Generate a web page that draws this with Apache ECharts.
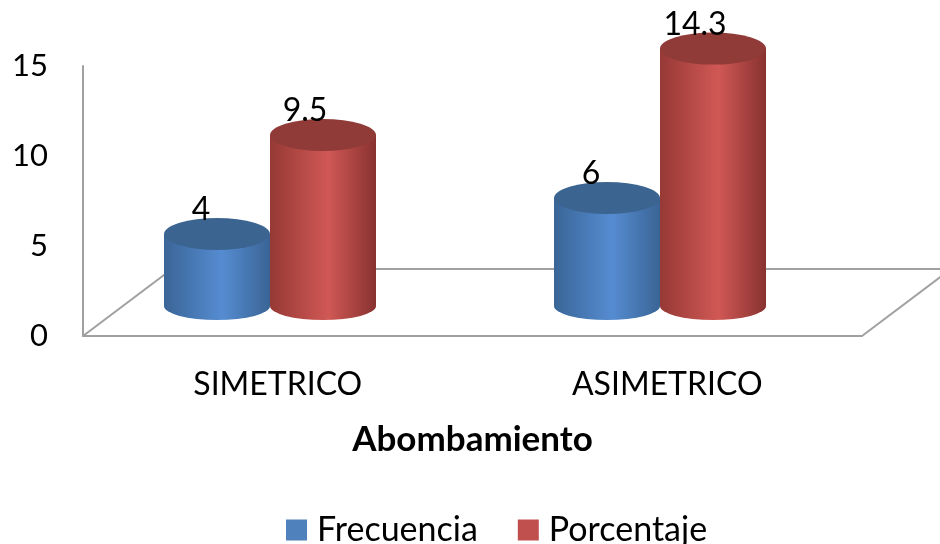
<!DOCTYPE html>
<html>
<head>
<meta charset="utf-8">
<script src="https://cdn.jsdelivr.net/npm/echarts@6/dist/echarts.min.js"></script>
<style>
  html, body { margin: 0; padding: 0; background: #fff; }
  #main { width: 940px; height: 544px; }
</style>
</head>
<body>
<div id="main"></div>
<script>
// datos
const categories = ['SIMETRICO', 'ASIMETRICO'];
const frecuencia = [4, 6];
const porcentaje = [9.5, 14.3];
const yTicks = [0, 5, 10, 15];

const FONT = 'Lato';
const W = 106; // ancho de cada cilindro

function grad(c1, c2, c3) {
  return new echarts.graphic.LinearGradient(0, 0, 1, 0, [
    { offset: 0, color: c1 },
    { offset: 0.55, color: c2 },
    { offset: 1, color: c3 }
  ]);
}
const blueBody = grad('#3a6597', '#558cd1', '#3a6495');
const redBody = grad('#963935', '#d05855', '#883230');
const blueTop = '#3c6491';
const redTop = '#903b38';

// piso / pared (decoracion 3D)
const floorColor = '#a0a0a0';
const backY = 269;

const myChart = echarts.init(document.getElementById('main'));

const option = {
  animation: false,
  textStyle: { fontFamily: FONT },
  grid: [
    { left: 83, right: 78, top: 66, bottom: 208 },
    { left: 75, right: 85, top: 36, bottom: 238 }
  ],
  xAxis: [
    {
      type: 'category',
      gridIndex: 0,
      data: categories,
      axisLine: { lineStyle: { color: floorColor, width: 2 } },
      axisTick: { show: false },
      axisLabel: { color: '#000', fontSize: 32, margin: 33, fontFamily: FONT },
      name: 'Abombamiento',
      nameLocation: 'middle',
      nameGap: 86,
      nameTextStyle: { color: '#000', fontSize: 35, fontWeight: 'bold', fontFamily: FONT }
    },
    {
      type: 'category',
      gridIndex: 1,
      data: categories,
      show: false
    }
  ],
  yAxis: [
    {
      type: 'value',
      gridIndex: 0,
      min: yTicks[0],
      max: yTicks[yTicks.length - 1],
      interval: yTicks[1] - yTicks[0],
      axisLine: { show: true, lineStyle: { color: floorColor, width: 2 } },
      axisTick: { show: false },
      splitLine: { show: false },
      axisLabel: { color: '#000', fontSize: 31, margin: 35, fontFamily: FONT }
    },
    {
      type: 'value',
      gridIndex: 1,
      min: yTicks[0],
      max: yTicks[yTicks.length - 1],
      show: false
    }
  ],
  legend: {
    data: [
      { name: 'Frecuencia', itemStyle: { color: '#4f81bd' } },
      { name: 'Porcentaje', itemStyle: { color: '#c0504d' } }
    ],
    top: 508,
    left: 281,
    icon: 'rect',
    itemWidth: 21,
    itemHeight: 21,
    itemGap: 40,
    textStyle: { color: '#000', fontSize: 34, fontFamily: FONT, padding: [0, 0, 0, 5] }
  },
  graphic: [
    {
      type: 'polyline',
      z: -1,
      shape: { points: [[83, 336], [172, backY], [940, backY]] },
      style: { stroke: floorColor, lineWidth: 2, fill: null }
    },
    {
      type: 'polyline',
      z: -1,
      shape: { points: [[862, 336], [951, backY]] },
      style: { stroke: floorColor, lineWidth: 2, fill: null }
    }
  ],
  series: [
    // bases
    {
      name: 'Frecuencia', type: 'pictorialBar', xAxisIndex: 1, yAxisIndex: 1,
      data: frecuencia, symbol: 'circle', symbolSize: [W, 28],
      symbolOffset: [-W / 2, '50%'], symbolPosition: 'start',
      itemStyle: { color: blueBody }, z: 1
    },
    {
      name: 'Porcentaje', type: 'pictorialBar', xAxisIndex: 1, yAxisIndex: 1,
      data: porcentaje, symbol: 'circle', symbolSize: [W, 28],
      symbolOffset: [W / 2, '50%'], symbolPosition: 'start',
      itemStyle: { color: redBody }, z: 1
    },
    // cuerpos
    {
      name: 'Frecuencia', type: 'bar', xAxisIndex: 1, yAxisIndex: 1,
      data: frecuencia, barWidth: W, barGap: '0%',
      itemStyle: { color: blueBody }, z: 2
    },
    {
      name: 'Porcentaje', type: 'bar', xAxisIndex: 1, yAxisIndex: 1,
      data: porcentaje, barWidth: W, barGap: '0%',
      itemStyle: { color: redBody }, z: 2
    },
    // tapas
    {
      name: 'Frecuencia', type: 'pictorialBar', xAxisIndex: 1, yAxisIndex: 1,
      data: frecuencia, symbol: 'circle', symbolSize: [W, 32],
      symbolOffset: [-W / 2, '-50%'], symbolPosition: 'end',
      itemStyle: { color: blueTop }, z: 3,
      label: {
        show: true, position: 'top', distance: -8, offset: [-W / 2 - 16, 0],
        color: '#000', fontSize: 32, fontFamily: FONT
      }
    },
    {
      name: 'Porcentaje', type: 'pictorialBar', xAxisIndex: 1, yAxisIndex: 1,
      data: porcentaje, symbol: 'circle', symbolSize: [W, 32],
      symbolOffset: [W / 2, '-50%'], symbolPosition: 'end',
      itemStyle: { color: redTop }, z: 3,
      label: {
        show: true, position: 'top', distance: -8, offset: [W / 2 - 18, 0],
        color: '#000', fontSize: 32, fontFamily: FONT
      }
    }
  ]
};

myChart.setOption(option);
</script>
</body>
</html>
